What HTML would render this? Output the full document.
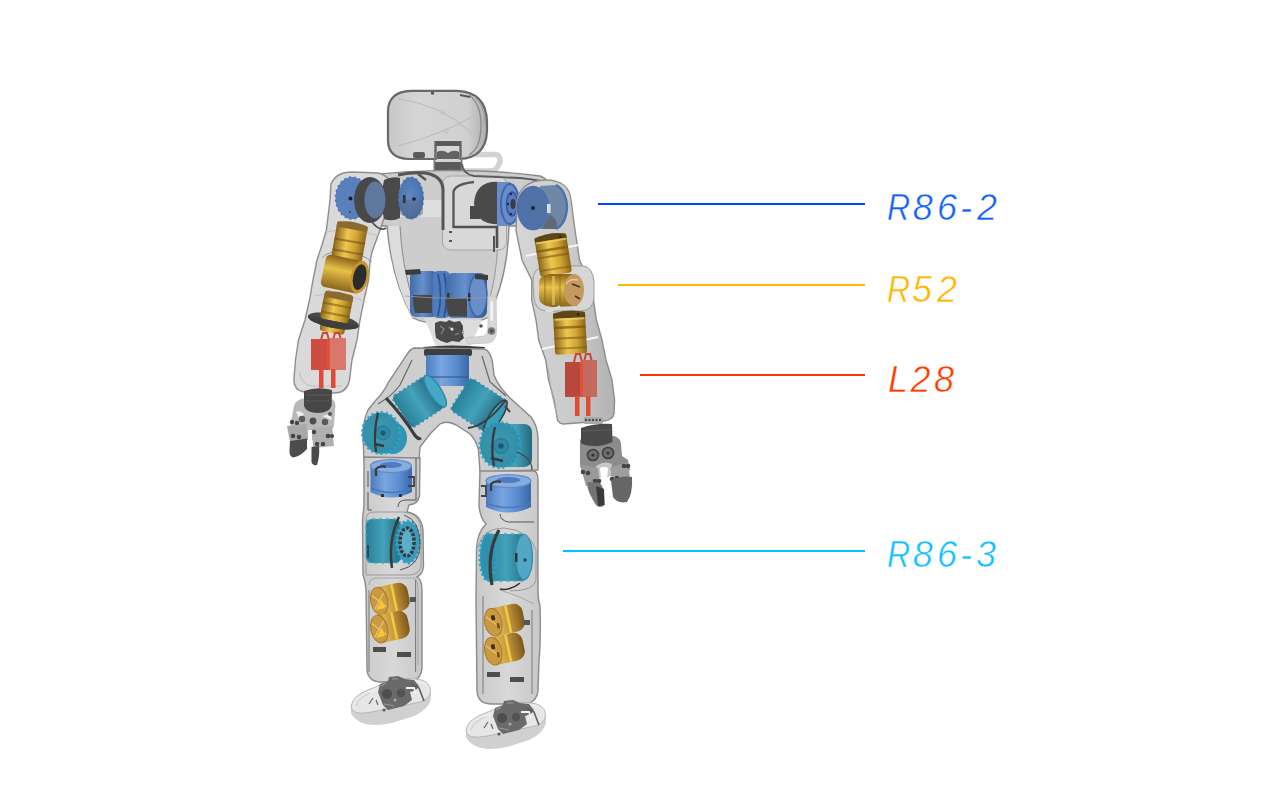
<!DOCTYPE html>
<html><head><meta charset="utf-8">
<style>
html,body{margin:0;padding:0;background:#fff;width:1280px;height:800px;overflow:hidden}
#art{position:absolute;left:0;top:0}
.lb{position:absolute;font-family:"Liberation Sans",sans-serif;font-style:italic;font-size:36px;line-height:36px;white-space:nowrap;-webkit-text-stroke:0.5px #fff;paint-order:normal}
.ln{position:absolute;height:2px}
</style></head><body>
<svg id="art" width="1280" height="800" viewBox="0 0 1280 800">
<defs>
<linearGradient id="gBlue" x1="0" y1="0" x2="1" y2="0"><stop offset="0" stop-color="#416ca8"/><stop offset=".45" stop-color="#6690cc"/><stop offset="1" stop-color="#35598f"/></linearGradient>
<radialGradient id="rBlue" cx=".45" cy=".45" r=".6"><stop offset="0" stop-color="#5f88c2"/><stop offset=".8" stop-color="#4a74b0"/><stop offset="1" stop-color="#335a92"/></radialGradient>
<linearGradient id="gTeal" x1="0" y1="0" x2="1" y2="0"><stop offset="0" stop-color="#2a7f98"/><stop offset=".5" stop-color="#43a2ba"/><stop offset="1" stop-color="#216a80"/></linearGradient>
<radialGradient id="rTeal" cx=".5" cy=".5" r=".6"><stop offset="0" stop-color="#3c9ab0"/><stop offset=".75" stop-color="#3490a8"/><stop offset="1" stop-color="#206a80"/></radialGradient>
<linearGradient id="gGold" x1="0" y1="0" x2="1" y2="0"><stop offset="0" stop-color="#8a6418"/><stop offset=".4" stop-color="#eec850"/><stop offset=".7" stop-color="#cfa432"/><stop offset="1" stop-color="#8a661c"/></linearGradient>
<linearGradient id="gGoldV" x1="0" y1="0" x2="0" y2="1"><stop offset="0" stop-color="#8a6418"/><stop offset=".4" stop-color="#e6c048"/><stop offset="1" stop-color="#8a661c"/></linearGradient>
<linearGradient id="gRed" x1="0" y1="0" x2="1" y2="0"><stop offset="0" stop-color="#c23a2c"/><stop offset=".5" stop-color="#de5a48"/><stop offset="1" stop-color="#b83428"/></linearGradient>
<linearGradient id="gShellR" x1="0" y1="0" x2="1" y2="0"><stop offset="0" stop-color="#d6d6d6"/><stop offset=".55" stop-color="#cbcbcb"/><stop offset="1" stop-color="#b2b2b2"/></linearGradient>
<linearGradient id="gShell" x1="0" y1="0" x2="1" y2="0"><stop offset="0" stop-color="#cacaca"/><stop offset=".5" stop-color="#d8d8d8"/><stop offset="1" stop-color="#c8c8c8"/></linearGradient>
<linearGradient id="gHead" x1="0" y1="0" x2="1" y2="0"><stop offset="0" stop-color="#c8c8c8"/><stop offset=".3" stop-color="#d5d5d5"/><stop offset=".8" stop-color="#d0d0d0"/><stop offset="1" stop-color="#adadad"/></linearGradient>
<linearGradient id="gDark" x1="0" y1="0" x2="1" y2="0"><stop offset="0" stop-color="#3a3a3a"/><stop offset=".5" stop-color="#5a5a5a"/><stop offset="1" stop-color="#333"/></linearGradient>
<linearGradient id="gBlueL" x1="0" y1="0" x2="1" y2="0"><stop offset="0" stop-color="#4a7cc0"/><stop offset=".35" stop-color="#7aa6e0"/><stop offset=".7" stop-color="#5a8cd0"/><stop offset="1" stop-color="#3a68a8"/></linearGradient>
<linearGradient id="gGoldL" x1="0" y1="0" x2="1" y2="0"><stop offset="0" stop-color="#9a7024"/><stop offset=".35" stop-color="#d9ae4e"/><stop offset=".6" stop-color="#c0923a"/><stop offset="1" stop-color="#7a5618"/></linearGradient>
</defs>

<!-- ============ HEAD ============ -->
<g id="head">
  <path d="M462,154.5 L495,154.5 Q501,155 500,162 L498,166 Q496,171 489,171 L462,171" fill="none" stroke="#d2d2d2" stroke-width="5.5"/>
  <rect x="433" y="158" width="30" height="16" fill="#d4d4d4"/>
  <path d="M411,90.8 L457,90.8 Q486.5,92 487,122 L487,131 Q486,158 459,159 L409,159 Q388,158.5 388,140 L388,111 Q388.5,91.5 411,90.8 Z" fill="url(#gHead)" stroke="#686868" stroke-width="2.2"/>
  <path d="M469,95 Q481,104 481,125 Q481,148 469,155" fill="none" stroke="#8a8a8a" stroke-width="1.3"/>
  <path d="M474,96 Q485,106 485,125" fill="none" stroke="#a0a0a0" stroke-width="1"/>
  <path d="M398,99 Q440,104 472,133" fill="none" stroke="#b4b4b4" stroke-width=".8"/>
  <path d="M398,146 Q440,135 474,116" fill="none" stroke="#b4b4b4" stroke-width=".8"/>
  <circle cx="443" cy="112" r="2" fill="none" stroke="#bbb" stroke-width=".8"/>
  <circle cx="446" cy="131" r="2" fill="none" stroke="#bbb" stroke-width=".8"/>
  <rect x="431" y="92" width="3" height="2.5" fill="#555"/>
  <path d="M460,95 L470,97" stroke="#555" stroke-width="2"/>
  <rect x="434" y="140" width="28" height="20" fill="#d6d6d6"/>
  <path d="M435.5,141 L435.5,160 M460.5,141 L460.5,160" stroke="#6a6a6a" stroke-width="2.5"/>
  <rect x="436" y="141" width="24" height="5" fill="#5a5a5a"/>
  <path d="M437,152 Q442,149 448,153 Q454,149 459,152 L459,159 L437,159 Z" fill="#626262"/>
  <rect x="413" y="152" width="12" height="6" rx="2" fill="#5a5a5a"/>
  <rect x="435" y="162" width="27" height="8" fill="#5a5a5a"/>
  <path d="M434.5,160 L434.5,172 M461.5,160 L461.5,172" stroke="#777" stroke-width="1.5"/>
</g>

<!-- ============ TORSO ============ -->
<g id="torso">
  <path d="M352,178 C400,169 480,168 540,176 Q552,180 552,200 L552,224 C535,226 520,226 509,226 C508,262 500,295 487,318 C470,327 430,327 413,318 C400,295 390,262 387,226 C375,226 360,226 352,226 Z" fill="#cdcdcd" stroke="#8a8a8a" stroke-width="1.4"/>
  <path d="M352,200 L446,200 L446,217 L352,217 Z" fill="#dedede"/>
  <path d="M388.5,226 C390,262 400,295 413,318 L418,314 C409,292 402,262 400,226 Z" fill="#dcdcdc"/>
  <path d="M400,226 C402,262 409,292 418,314" fill="none" stroke="#8a8a8a" stroke-width="1"/>
  <path d="M508,226 C507,262 499,295 487,318 L484,313 C494,292 498,262 498,226 Z" fill="#d6d6d6"/>
  <path d="M498,228 C498,262 494,292 484,313" fill="none" stroke="#999" stroke-width="1"/>
  <rect x="442.5" y="176" width="64" height="74" rx="8" fill="#d8d8d8" stroke="#a4a4a4" stroke-width="1"/>
  <path d="M398,175 Q418,171 430,174 Q443,178 443,190 L443,230" fill="none" stroke="#555" stroke-width="3"/>
  <path d="M418,174 L426,180" stroke="#555" stroke-width="2.5"/>
  <path d="M453.5,228 L453.5,192 Q455,184 474,182" fill="none" stroke="#5a5a5a" stroke-width="2.4"/>
  <path d="M453,227 L497,227 L497,248" fill="none" stroke="#505050" stroke-width="2.6"/>
  <path d="M494,236 L494,252" fill="none" stroke="#555" stroke-width="2"/>
  <rect x="449" y="231" width="3" height="2" fill="#555"/><rect x="449" y="240" width="3" height="2" fill="#555"/>
  <path d="M462,164 Q463,174 474,176 L520,178 Q540,180 552,184" fill="none" stroke="#5a5a5a" stroke-width="1.8"/>
    <!-- right shoulder inner -->
  <path d="M500,182 Q476,180 474,203 Q476,226 500,224 Z" fill="#4a4a4a"/>
  <rect x="470" y="206" width="10" height="13" fill="#484848"/>
  <path d="M497,182 L510,182 Q521,190 520.5,204 Q520,220 510,226 L497,226 Z" fill="#6a8cc8"/>
  <ellipse cx="510" cy="204" rx="9" ry="20" fill="none" stroke="#3f68b0" stroke-width="2"/>
  <ellipse cx="512" cy="204" rx="5.5" ry="12" fill="#5a7cb8" stroke="#2f56a0" stroke-width="1.5"/>
  <ellipse cx="513" cy="204" rx="2.5" ry="5" fill="#3a3a4a"/>
  <circle cx="511" cy="194" r="1.3" fill="#1a2a6a"/><circle cx="511" cy="214" r="1.3" fill="#1a2a6a"/><circle cx="508" cy="204" r="1.2" fill="#1a2a6a"/>
  <!-- waist motor -->
  <rect x="410" y="271" width="28" height="46" rx="6" fill="url(#gBlue)"/>
  <rect x="433" y="271" width="17" height="47" rx="5" fill="#4f7cc0"/>
  <path d="M438,274 Q443,295 438,316 M444,273 Q449,295 444,317" fill="none" stroke="#2e4e86" stroke-width="1.6"/>
  <rect x="446" y="273" width="41" height="45" rx="7" fill="url(#gBlue)"/>
  <ellipse cx="478" cy="295.5" rx="9" ry="21" fill="#6a8ec8" stroke="#3a66aa" stroke-width="1.5"/>
  <rect x="447" y="293" width="2.5" height="8" fill="#333"/><rect x="468" y="293" width="2.5" height="8" fill="#333"/>
  <path d="M405,270 L420,269 L421,274 L406,275 Z M475,274 L488,275 L488,280 L475,279 Z" fill="#3c3c3c"/>
  <path d="M413,295 L432,295 L432,313 L415,313 Q413,306 413,300 Z" fill="#474747"/>
  <path d="M446,298 L467,298 L467,317 L449,316 Q446,308 446,302 Z" fill="#474747"/>
  <path d="M405,296 Q450,300 497,297" fill="none" stroke="#9a9a9a" stroke-width=".8"/>
  <!-- waist bracket & mech -->
  <path d="M424,318 Q430,330 434,342 L436,346 L470,346 Q476,334 482,320 Z" fill="#dcdcdc"/>
  <path d="M488,296 L496,296 L496.5,331 Q496,342 488,343 L468,344 L466,338 L484,336 Q488,334 488,326 Z" fill="#d6d6d6" stroke="#c4c4c4" stroke-width=".8"/>
  <rect x="490.5" y="301" width="2.5" height="20" rx="1" fill="#f4f4f4"/>
  <circle cx="491.5" cy="331" r="3.8" fill="#7a7a7a"/><circle cx="491.5" cy="331" r="1.8" fill="#505050"/>
  <circle cx="481" cy="326" r="1.8" fill="#555"/>
  <path d="M435,323 L440,321 L446,322 L449,320 L454,322 L460,321 L463,326 L462,333 L464,338 L459,342 L452,341 L447,343 L441,341 L436,338 L435,331 Z" fill="#4a4a4a"/>
  <path d="M440,326 L444,329 L441,334 M449,327 L453,331 M455,335 L459,333" stroke="#8a8a8a" stroke-width="1.2" fill="none"/>
  <circle cx="452" cy="329" r="1.5" fill="#ddd"/>
  <path d="M461,326 Q465,332 461,340" fill="none" stroke="#222" stroke-width="1" stroke-dasharray="1.5 1"/>
  <path d="M423,347 Q450,344 485,347 L483,351 L424,351 Z" fill="#3c3c3c"/>
</g>

<!-- ============ LEFT ARM ============ -->
<g id="larm">
  <path d="M331,184 Q336,172 352,172 L378,173 Q392,176 393,192 L380,230 L372,252 L370,262 L368.6,280 L364,300 L360,320 L357,340 L352,360 L349.5,380 Q347,393 334,393 L304,392 Q293,390 294,378 L295.5,360 L298.5,340 L305,320 L309.5,300 L313,280 L317,260 L322,245 L326.4,230 L330,200 Z" fill="#dadada" stroke="#8e8e8e" stroke-width="1.4"/>
  <path d="M322,258 Q328,250 346,252 Q364,254 372,262" fill="none" stroke="#9a9a9a" stroke-width="1"/>
  <path d="M326,232 Q350,226 379,236" fill="none" stroke="#c4c4c4" stroke-width="1"/>
  <path d="M314,296 Q340,290 366,302" fill="none" stroke="#c4c4c4" stroke-width="1"/>
  <path d="M300,372 Q300,384 312,386 L342,386" fill="none" stroke="#bdbdbd" stroke-width="1"/>
  <!-- left shoulder inner motor -->
  <path d="M384,180 Q392,176 400,178 L400,218 Q392,222 384,219 Q379,200 384,180 Z" fill="#4a4a4a"/>
  <ellipse cx="411" cy="198" rx="12.5" ry="21" fill="url(#rBlue)" stroke="#4a74b8" stroke-width="1.2" stroke-dasharray="2 3"/>
  <path d="M400,200 L423,200 L423,214 Q412,222 400,214 Z" fill="#5a6a84" opacity=".45"/>
  <circle cx="414" cy="199" r="1.8" fill="#1e1e1e"/>
  <rect x="403" y="195" width="2.5" height="8" fill="#333"/>
  <!-- shoulder motor -->
  <ellipse cx="352" cy="198" rx="16.5" ry="21" fill="#5a80bc" stroke="#4a74b8" stroke-width="1.5" stroke-dasharray="2 3"/>
  <circle cx="350.5" cy="198.5" r="2" fill="#1e1e1e"/>
  <circle cx="350" cy="212" r="1" fill="#333"/>
  <ellipse cx="370" cy="200" rx="16" ry="23" fill="#484848"/>
  <ellipse cx="375" cy="200" rx="10.5" ry="18.5" fill="#60789e"/>
  <path d="M372,222 Q380,232 386,228" fill="none" stroke="#555" stroke-width="1.8"/>
  <!-- gold 1 -->
  <g transform="rotate(10 349 242)">
    <rect x="334" y="223" width="31" height="39" rx="3" fill="url(#gGold)"/>
    <path d="M334,224 Q350,219 365,224 L365,229 L334,229 Z" fill="#8a6a30"/>
    <rect x="334" y="240" width="31" height="2" fill="#6e4a12" opacity=".55"/>
    <rect x="334" y="251" width="31" height="2" fill="#6e4a12" opacity=".55"/>
  </g>
  <!-- gold 2 -->
  <g transform="rotate(12 345 274)">
    <rect x="323" y="258" width="40" height="33" rx="5" fill="url(#gGoldV)"/>
    <ellipse cx="360" cy="274" rx="9" ry="16.5" fill="#c7952e"/>
    <ellipse cx="360" cy="274" rx="6.5" ry="13" fill="#2c2c2c"/>
  </g>
  <!-- gold 3 + disc -->
  <g transform="rotate(11 334 318)">
    <rect x="322" y="322" width="25" height="11" rx="3" fill="url(#gGold)"/>
    <ellipse cx="334" cy="321" rx="26" ry="7" fill="#474747"/>
    <rect x="320" y="292" width="29" height="29" rx="4" fill="url(#gGold)"/>
    <path d="M321,294 Q335,289 349,294 L349,299 L321,299 Z" fill="#8a6a30"/>
    <rect x="320" y="304" width="29" height="2" fill="#7a5614" opacity=".6"/>
    <rect x="320" y="313" width="29" height="2" fill="#7a5614" opacity=".6"/>
    <path d="M308,321 A26,7 0 0,0 360,321 Z" fill="#3e3e3e"/>
  </g>
  <!-- red -->
  <path d="M321,340 L323,333 L327,333 L329,340 M333,340 L335,333 L339,333 L341,340" fill="none" stroke="#cf4434" stroke-width="2"/>
  <rect x="311" y="339" width="18" height="31" fill="#cf4c40"/>
  <rect x="329" y="338" width="17" height="32" fill="#d8786a"/>
  <rect x="327" y="339" width="3" height="31" fill="#e0503c"/>
  <rect x="319" y="369" width="4.5" height="19" fill="#e24a34"/>
  <rect x="331" y="369" width="4.5" height="19" fill="#e24a34"/>
  <!-- gripper -->
  <path d="M294,406 Q296,399 306,398 L330,398 Q337,400 335,410 L334,426 L328,436 L314,440 L298,440 L290,428 Z" fill="#b9b9b9"/>
  <path d="M304,391 Q318,386 332,390 L331.5,406 Q329,413 318,413 Q306,413 304,406 Z" fill="#474747"/>
  <path d="M306,395 L330,395 M306,401 L330,401" stroke="#5a5a5a" stroke-width="1"/>
  <path d="M296,412 Q300,410 304,414 L300,420 Z M322,416 L330,414 L332,420 Z" fill="#eee"/>
  <circle cx="302" cy="419" r="3.2" fill="#5a5a5a"/><circle cx="313" cy="421" r="3.4" fill="#4e4e4e"/><circle cx="325" cy="422" r="3.2" fill="#5a5a5a"/>
  <circle cx="292" cy="422" r="2.2" fill="#444"/><circle cx="297" cy="423" r="2.2" fill="#444"/><circle cx="330" cy="414" r="2" fill="#555"/>
  <path d="M287,426 L306,424 L308,440 L290,442 Z" fill="#a8a8a8"/>
  <path d="M312,428 L332,426 L334,446 L313,448 Z" fill="#b0b0b0"/>
  <path d="M308,430 L312,430 L312,446 L308,446 Z" fill="#fff"/>
  <circle cx="293" cy="436" r="2.3" fill="#454545"/><circle cx="299" cy="437" r="2.3" fill="#454545"/>
  <circle cx="314" cy="432" r="2.2" fill="#454545"/><circle cx="328" cy="436" r="2.3" fill="#454545"/><circle cx="332" cy="436" r="2" fill="#454545"/>
  <circle cx="317" cy="444" r="2.2" fill="#454545"/><circle cx="323" cy="444" r="2.2" fill="#454545"/>
  <path d="M290,441 L307,438.5 L307,449 Q301,456 293,457.6 Q289,456 289.5,450 Z" fill="#4c4c4c"/>
  <path d="M311.5,447 L319,446 Q320,456 317,465 Q313,466 311.5,462 Z" fill="#4a4a4a"/>
</g>

<!-- ============ RIGHT ARM ============ -->
<g id="rarm">
  <path d="M517,206 C516,188 530,180 546,180 C562,180 570,188 571,200 L575,230 L579.5,260 L584,270 L592,280 L593.5,300 L596.4,320 L602,340 L606,360 L612,380 L614.6,400 L614,414 Q613,420 604,421 L563,424 Q557,423 557,417 L554,400 L548.6,380 L545.7,360 L538.7,340 L536,320 L531.7,300 L531.7,280 L522,260 L516,230 Z" fill="url(#gShellR)" stroke="#8e8e8e" stroke-width="1.4"/>
  <path d="M533,282 Q532,268 546,266 L584,266 Q593,268 594,282 L594,298 Q593,310 582,311 L546,311 Q535,310 534,298 Z" fill="#d6d6d6" stroke="#9a9a9a" stroke-width="1"/>
  <path d="M526,256 L578,245" stroke="#f6f6f6" stroke-width="1.8"/>
  <path d="M542,349 L598,337" stroke="#f6f6f6" stroke-width="1.8"/>
  <path d="M548,368 Q552,400 558,418" fill="none" stroke="#aaa" stroke-width="1"/>
  <!-- shoulder motor -->
  <path d="M540,186 L556,185 Q566,190 567,207 Q566,224 556,229 L540,229 Z" fill="#7088a6"/>
  <path d="M556,185 Q566,190 567,207 Q566,224 556,229" fill="none" stroke="#4a72b0" stroke-width="2.5"/>
  <path d="M550,214 Q560,222 556,229 L542,229 Z" fill="#555" opacity=".6"/>
  <ellipse cx="533" cy="208" rx="15.5" ry="21.5" fill="#4f72a8" stroke="#4a6fae" stroke-width="1.5"/>
  <circle cx="533" cy="208" r="2" fill="#222"/>
  <rect x="547" y="204" width="3.5" height="9" fill="#dde"/>
  <!-- gold 1 -->
  <g transform="rotate(-9 553 254)">
    <rect x="537" y="235" width="32" height="40" rx="3" fill="url(#gGold)"/>
    <path d="M537,236 Q553,231 569,236 L569,240 L537,240 Z" fill="#5e4618"/>
    <rect x="538" y="240" width="30" height="2" fill="#f4d46a" opacity=".7"/>
    <rect x="537" y="248" width="32" height="2.5" fill="#7a5614" opacity=".7"/>
    <rect x="537" y="255" width="32" height="2" fill="#7a5614" opacity=".6"/>
    <rect x="537" y="268" width="32" height="2" fill="#7a5614" opacity=".5"/>
    <circle cx="563" cy="238" r="1.3" fill="#222"/>
  </g>
  <!-- gold 2 -->
  <path d="M539,282 Q540,275 550,274 L572,274 L577,306 L552,307 Q540,306 539,298 Z" fill="url(#gGoldV)"/>
  <path d="M545,276 L545,305 M560,275 L560,306" stroke="#8a6418" stroke-width="1.2" opacity=".6"/>
  <rect x="552" y="276" width="3" height="29" fill="#f0cc5a" opacity=".6"/>
  <ellipse cx="574" cy="290" rx="10" ry="16" fill="#c49a5e"/>
  <path d="M566,284 Q570,278 578,280" fill="none" stroke="#e8c88a" stroke-width="1.5"/>
  <path d="M572,284 L580,287 M575,296 L580,299" stroke="#4a3418" stroke-width="1.6"/>
  <path d="M560,306 Q548,314 546,310" fill="none" stroke="#e2e2e2" stroke-width="2"/>
  <!-- gold 3 -->
  <g transform="rotate(-3 570 332)">
    <rect x="554" y="312" width="32" height="42" rx="3" fill="url(#gGold)"/>
    <path d="M554,313 Q570,308 586,313 L586,318 L554,318 Z" fill="#5e4618"/>
    <rect x="555" y="318" width="30" height="2" fill="#f4d46a" opacity=".7"/>
    <rect x="554" y="326" width="32" height="2.5" fill="#7a5614" opacity=".7"/>
    <rect x="554" y="337" width="32" height="2" fill="#7a5614" opacity=".6"/>
    <rect x="554" y="347" width="32" height="2" fill="#7a5614" opacity=".5"/>
    <circle cx="579" cy="315" r="1.3" fill="#222"/>
  </g>
  <!-- red -->
  <path d="M574,362 L576,354 L580,354 L582,362 M584,362 L586,354 L590,354 L592,362" fill="none" stroke="#cf4434" stroke-width="2"/>
  <rect x="565" y="362" width="17" height="35" fill="#b8483c"/>
  <rect x="582" y="360" width="15" height="37" fill="#c46a5e"/>
  <rect x="580" y="362" width="3" height="35" fill="#e0503c"/>
  <rect x="575" y="396" width="4.5" height="20" fill="#e24a34"/>
  <rect x="586" y="396" width="4.5" height="20" fill="#e24a34"/>
  <!-- gripper -->
  <rect x="584" y="417" width="19" height="7" rx="1" fill="#a8a8a8"/>
  <path d="M585,420 L602,420" stroke="#444" stroke-width="2" stroke-dasharray="2 1.5"/>
  <path d="M580,440 Q582,436 590,436 L614,436 Q621,438 621,444 L622,456 L628,460 L630,470 L624,474 L612,476 L596,478 L584,476 L580,466 Z" fill="#8c8c8c"/>
  <path d="M581,428 Q596,423 612,424 L612.5,442 Q604,446 596,446 Q584,446 581,443 Z" fill="#4a4a4a"/>
  <path d="M583,431 L611,430" stroke="#5e5e5e" stroke-width="1"/>
  <circle cx="593" cy="455" r="5.5" fill="#6e6e6e" stroke="#3e3e3e" stroke-width="1.6"/>
  <circle cx="608" cy="453" r="5.5" fill="#6e6e6e" stroke="#3e3e3e" stroke-width="1.6"/>
  <circle cx="593" cy="455" r="1.6" fill="#333"/><circle cx="608" cy="453" r="1.6" fill="#333"/>
  <path d="M596,466 Q604,460 612,464 L611,476 L597,477 Z" fill="#c8c8c8"/>
  <path d="M600,468 Q604,466 608,468 L607,480 L601,480 Z" fill="#fff"/>
  <path d="M580,464 L598,468 L600,484 L586,486 Z" fill="#9a9a9a"/>
  <path d="M610,468 L628,462 L630,478 L614,482 Z" fill="#9e9e9e"/>
  <circle cx="583" cy="472" r="2.3" fill="#444"/><circle cx="588" cy="473" r="2.3" fill="#444"/>
  <circle cx="624" cy="466" r="2.3" fill="#444"/><circle cx="628" cy="466" r="2.3" fill="#444"/>
  <circle cx="595" cy="481" r="2.3" fill="#444"/><circle cx="599" cy="481" r="2.3" fill="#444"/>
  <circle cx="612" cy="479" r="2.3" fill="#444"/><circle cx="617" cy="478" r="2.3" fill="#444"/>
  <path d="M587.5,482 L600,483 Q604,488 604,494 L604.5,505 Q600,509 596,505 Q589,494 587.5,487 Z" fill="#747474"/>
  <path d="M596,486 L604,489 L604.5,505 L598,506 Z" fill="#3a3a3a"/>
  <path d="M611,480 Q622,475 632,477 Q633,494 627,502 Q617,504 613,497 Z" fill="#666"/>
</g>

<!-- ============ PELVIS ============ -->
<g id="pelvis">
  <path d="M414,348 L484,349 Q490,350 492.5,362 L494,375 Q498,386 510,398 L531,417 Q538,426 538,440 L538,470 L480,472 L478.5,450 Q476,440 470,434 L457,425.5 Q447,420 440,424 L430,434 L420,447 L419,460 L364,460 L363,437 Q363,420 368,410 L376,400 Q384,392 388,383 L406,356 Q410,349 414,348 Z" fill="#cecece" stroke="#8a8a8a" stroke-width="1.4"/>
  <path d="M412,360 L400,385 Q392,396 378,404" fill="none" stroke="#666" stroke-width="1.2"/>
  <path d="M482,356 L490,382 L506,396" fill="none" stroke="#666" stroke-width="1.2"/>
  <!-- top blue -->
  <rect x="424" y="349" width="48" height="7" rx="2" fill="#3e3e3e"/>
  <rect x="426" y="355" width="43" height="31" rx="2" fill="url(#gBlueL)"/>
  <rect x="426" y="376" width="43" height="2" fill="#3a5a90" opacity=".6"/>
  <!-- teal 1 -->
  <g transform="rotate(-33 419 401)">
    <rect x="398" y="383" width="40" height="37" rx="4" fill="url(#gTeal)"/>
    <rect x="398" y="383" width="40" height="37" rx="4" fill="none" stroke="#2a92b2" stroke-width="2" stroke-dasharray="2 3"/>
    <ellipse cx="438" cy="401.5" rx="6" ry="18.5" fill="#46a8c6" stroke="#2d8aa8" stroke-width="1.5"/>
  </g>
  <path d="M386,398 Q402,415 414,434 Q418,440 421,438" fill="none" stroke="#3c3c3c" stroke-width="3.2"/>
  <!-- teal 3 -->
  <g transform="rotate(33 478 405)">
    <rect x="457" y="386" width="43" height="38" rx="4" fill="url(#gTeal)"/>
    <rect x="457" y="386" width="43" height="38" rx="4" fill="none" stroke="#2a92b2" stroke-width="2" stroke-dasharray="2 3"/>
    <ellipse cx="499" cy="405" rx="6" ry="19" fill="#3c9cb4" stroke="#3a3a3a" stroke-width="1.5"/><ellipse cx="499" cy="405" rx="3.5" ry="14" fill="none" stroke="#2aa2c8" stroke-width="1.2"/>
  </g>
  <path d="M468,428 Q486,426 506,400" fill="none" stroke="#3c3c3c" stroke-width="2"/>
  <path d="M505,406 L510,412" stroke="#444" stroke-width="2"/>
  <!-- teal 2 face -->
  <ellipse cx="393" cy="438" rx="14" ry="16" fill="#3295b3"/>
  <ellipse cx="381" cy="433" rx="18.5" ry="20.5" fill="url(#rTeal)" stroke="#2aa2c8" stroke-width="3" stroke-dasharray="2.2 2.6"/>
  <circle cx="383" cy="433" r="7" fill="#2f88a6" stroke="#237590" stroke-width="1"/>
  <circle cx="383" cy="433" r="2.5" fill="#1e5a6e"/>
  <path d="M378,413 Q373,433 376,452" fill="none" stroke="#383838" stroke-width="2.2"/>
  <path d="M374,444 L384,446" stroke="#383838" stroke-width="2.5"/>
  <!-- teal 4 face -->
  <rect x="498" y="424" width="34" height="43" rx="8" fill="url(#gTeal)"/>
  <ellipse cx="500" cy="445" rx="20" ry="22.5" fill="url(#rTeal)" stroke="#2aa2c8" stroke-width="3" stroke-dasharray="2.2 2.6"/>
  <circle cx="501" cy="446" r="7.5" fill="#2f88a6" stroke="#237590" stroke-width="1"/>
  <circle cx="501" cy="446" r="2.8" fill="#1e5a6e"/>
  <path d="M495,427 Q490,446 494,466" fill="none" stroke="#383838" stroke-width="2.2"/>
  <path d="M491,458 L503,461" stroke="#383838" stroke-width="2.5"/>
  <path d="M517,452 Q532,458 532,470" fill="none" stroke="#444" stroke-width="1.2"/>
</g>

<!-- ============ LEFT LEG ============ -->
<g id="lleg">
  <path d="M364,457 L420,458 L419.5,496 Q418,504 409,505 L407,512 Q421,514 423,530 L423.5,566 Q423,574 417,577 Q422,580 422,590 L422,668 Q421,682 406,682 L380,682 Q367,681 367,668 L366,590 Q365,580 363,575 L362.5,520 L364,505 Z" fill="url(#gShell)" stroke="#8a8a8a" stroke-width="1.4"/>
  <path d="M366,575 L366,520 Q366,512 374,512 L404,512 Q421,514 421,530 L421,566 Q420,574 410,575 Z" fill="none" stroke="#9a9a9a" stroke-width="1"/>
  <path d="M369,585 Q369,578 378,578 L414,578 Q418,580 418,590 L418,666" fill="none" stroke="#a4a4a4" stroke-width="1"/>
  <path d="M369,590 L369,672 M415.6,580 L415.6,672" fill="none" stroke="#777" stroke-width="1"/>
  <!-- blue thigh -->
  <path d="M370.5,466 L370.5,492 Q391,503 412,492 L412,466 Z" fill="url(#gBlueL)"/>
  <path d="M371,488 Q391,497 412,488" fill="none" stroke="#4a78b8" stroke-width="1.5"/>
  <ellipse cx="391" cy="466" rx="20.5" ry="6.5" fill="#88ace0" stroke="#5f8cc8" stroke-width="1.2"/>
  <ellipse cx="391" cy="465" rx="11" ry="3" fill="#4f7cc0"/>
  <path d="M376,476 L376,469 Q380,465 386,467" fill="none" stroke="#3a3a3a" stroke-width="2.2"/>
  <path d="M408,477 L414,477 L414,486 L408,486" fill="none" stroke="#444" stroke-width="1.8"/>
  <path d="M368,471 L368,487 M368,492 L368,510 L372,510" fill="none" stroke="#555" stroke-width="1"/>
  <path d="M398,507 Q398,500 406,500 L416,500 L416,458" fill="none" stroke="#555" stroke-width="1"/>
  <rect x="381" y="494" width="3" height="3" fill="#333"/><rect x="399" y="494" width="3" height="3" fill="#333"/>
  <!-- teal knee -->
  <rect x="366" y="519" width="35" height="44" rx="6" fill="url(#gTeal)"/>
  <rect x="366" y="519" width="35" height="44" rx="6" fill="none" stroke="#3ab0d0" stroke-width="1.5" stroke-dasharray="3 4"/>
  <ellipse cx="408" cy="542" rx="11.5" ry="21" fill="#3a9cbc" stroke="#2aa2c8" stroke-width="3" stroke-dasharray="2.2 2.6"/>
  <ellipse cx="407" cy="542" rx="7" ry="14" fill="#58b0c8" stroke="#3a3a3a" stroke-width="3.5" stroke-dasharray="3 1.5"/>
  <path d="M399,517 Q388,540 392,568" fill="none" stroke="#383838" stroke-width="2.5"/>
  <path d="M404,515 Q420,520 420,545 Q420,566 400,570" fill="none" stroke="#555" stroke-width="1"/>
  <path d="M368,545 L368,558" stroke="#2a4a5a" stroke-width="2"/>
  <!-- gold -->
  <g transform="rotate(-12 389 599)">
    <rect x="374" y="585" width="35" height="28" rx="9" fill="url(#gGoldL)"/>
    <rect x="393" y="585" width="2.5" height="28" fill="#f2cc40"/>
    <ellipse cx="379" cy="599" rx="8.5" ry="14" fill="#c99a40" stroke="#a87a28" stroke-width="1"/>
    <path d="M373,592 L385,606 M385,592 L373,606" stroke="#e8c870" stroke-width="1.2"/>
    <path d="M374,607 L382,598 L383,607 Z" fill="#f5c838"/>
  </g>
  <g transform="rotate(-12 389 627)">
    <rect x="374" y="613" width="35" height="28" rx="9" fill="url(#gGoldL)"/>
    <rect x="393" y="613" width="2.5" height="28" fill="#f2cc40"/>
    <ellipse cx="379" cy="627" rx="8.5" ry="14" fill="#c99a40" stroke="#a87a28" stroke-width="1"/>
    <path d="M373,620 L385,634 M385,620 L373,634" stroke="#e8c870" stroke-width="1.2"/>
    <path d="M374,635 L382,626 L383,635 Z" fill="#f5c838"/>
  </g>
  <rect x="410" y="597" width="6" height="5" fill="#555"/>
  <path d="M373,647 L386,647 L386,652 L373,652 Z" fill="#4e4e4e"/>
  <path d="M397,652 L411,652 L411,657 L397,657 Z" fill="#4e4e4e"/>
</g>

<!-- ============ RIGHT LEG ============ -->
<g id="rleg">
  <path d="M480,471 L534,471 Q538,472 538,480 L538,530 L538,592 Q538,600 540,606 Q541,640 539,660 L538,690 Q537,704 522,704 L492,704 Q477,704 477,690 L476,600 L476.5,550 Q477,532 486,524 Q480,518 479,505 Z" fill="url(#gShell)" stroke="#8a8a8a" stroke-width="1.4"/>
  <path d="M483,596 L483,694 M532,610 L532,694" fill="none" stroke="#7a7a7a" stroke-width="1"/>
  <path d="M500,590 Q520,596 534,604" fill="none" stroke="#a8a8a8" stroke-width="1"/>
  <!-- blue thigh -->
  <path d="M486,481 L486,507 Q508.5,518 531,507 L531,481 Z" fill="url(#gBlueL)"/>
  <path d="M486,503 Q508.5,512 531,503" fill="none" stroke="#4a78b8" stroke-width="1.5"/>
  <ellipse cx="508.5" cy="481" rx="22.5" ry="6.5" fill="#88ace0" stroke="#5f8cc8" stroke-width="1.2"/>
  <ellipse cx="508.5" cy="480" rx="12" ry="3" fill="#4f7cc0"/>
  <path d="M491,491 L491,484 Q495,480 501,482" fill="none" stroke="#3a3a3a" stroke-width="2.2"/>
  <path d="M481,486 L486,486 L486,496 L481,496" fill="none" stroke="#444" stroke-width="1.8"/>
  <path d="M500,514 Q500,520 508,522 L534,522" fill="none" stroke="#555" stroke-width="1"/>
  <!-- teal knee -->
  <rect x="484" y="534" width="44" height="47" rx="6" fill="url(#gTeal)"/>
  <rect x="484" y="534" width="44" height="47" rx="6" fill="none" stroke="#3ab0d0" stroke-width="1.5" stroke-dasharray="3 4"/>
  <ellipse cx="524" cy="557" rx="8.5" ry="22.5" fill="#52a8c4" stroke="#2f8aa8" stroke-width="1.2"/>
  <circle cx="525" cy="560" r="1.8" fill="#1e4a5e"/>
  <rect x="515" y="553" width="2.5" height="9" fill="#333"/>
  <ellipse cx="488" cy="557" rx="8" ry="23.5" fill="#2f8fae" stroke="#2aa2c8" stroke-width="3" stroke-dasharray="2.2 2.6"/>
  <path d="M499,530 Q486,553 492,585" fill="none" stroke="#3a3a3a" stroke-width="3.2"/>
  <path d="M520,583 Q510,591 500,589" fill="none" stroke="#333" stroke-width="1.5"/>
  <path d="M478,548 Q482,528 504,528 Q530,530 536,550 L536,580 Q534,591 510,591" fill="none" stroke="#999" stroke-width="1"/>
  <!-- gold -->
  <g transform="rotate(-12 504 620)">
    <rect x="488" y="606" width="36" height="28" rx="9" fill="url(#gGoldL)"/>
    <rect x="507" y="606" width="2.5" height="28" fill="#f2cc40"/>
    <ellipse cx="493" cy="620" rx="8.5" ry="14" fill="#c99a40" stroke="#a87a28" stroke-width="1"/>
    <path d="M487,613 L499,627" stroke="#e8c870" stroke-width="1.2"/>
    <rect x="492" y="613" width="3.5" height="5" fill="#3a2a10"/>
    <rect x="496" y="622" width="2.5" height="5" fill="#6a4a18"/>
  </g>
  <g transform="rotate(-12 504 649)">
    <rect x="488" y="635" width="36" height="28" rx="9" fill="url(#gGoldL)"/>
    <rect x="507" y="635" width="2.5" height="28" fill="#f2cc40"/>
    <ellipse cx="493" cy="649" rx="8.5" ry="14" fill="#c99a40" stroke="#a87a28" stroke-width="1"/>
    <path d="M487,642 L499,656" stroke="#e8c870" stroke-width="1.2"/>
    <rect x="492" y="642" width="3.5" height="5" fill="#3a2a10"/>
    <rect x="496" y="651" width="2.5" height="5" fill="#6a4a18"/>
  </g>
  <rect x="524" y="620" width="6" height="5" fill="#555"/>
  <path d="M487,672 L500,672 L500,677 L487,677 Z" fill="#4e4e4e"/>
  <path d="M510,677 L524,677 L524,682 L510,682 Z" fill="#4e4e4e"/>
</g>

<!-- ============ FEET ============ -->
<g id="lfoot">
  <path d="M351,713 Q350,700 366,694 L408,684 Q430,680 431,696 Q431,708 414,716 L392,723 Q360,730 351,713 Z" fill="#d0d0d0"/>
  <path d="M351,707 Q352,696 368,690 L390,681 Q405,677 416,679 Q429,680 430.5,690 Q431,699 420,702 L372,712 Q352,716 351,707 Z" fill="#e8e8e8" fill-opacity=".88" stroke="#b6b6b6" stroke-width="1"/>
  <path d="M356,706 Q358,698 370,693" fill="none" stroke="#c8c8c8" stroke-width="1"/>
  <path d="M378,692 L380,684 L388,681 L389,677 L398,676 L405,679 L414,680 L419,686 L416,690 L410,692 L412,700 L404,706 L396,708 L388,710 L383,705 Z" fill="#6a6a6a"/>
  <circle cx="387" cy="694" r="5" fill="#4e4e4e"/><circle cx="401" cy="693" r="4.2" fill="#525252"/>
  <path d="M411,684 L419,688 L424,701" fill="none" stroke="#5e5e5e" stroke-width="1.6"/>
  <path d="M406,688 L414,688 L416,694" fill="none" stroke="#f2f2f2" stroke-width="1.8"/>
  <path d="M381,686 L386,683 M392,679 L398,679 M384,704 L394,706" stroke="#9a9a9a" stroke-width="1.2"/>
  <circle cx="395" cy="700" r="1.5" fill="#aaa"/>
  <path d="M373,698 L369,704 M376,700 L378,705" fill="none" stroke="#666" stroke-width="1.2"/>
  <circle cx="384" cy="710" r="1.5" fill="#555"/>
</g>
<g transform="translate(115,24)">
  <path d="M351,713 Q350,700 366,694 L408,684 Q430,680 431,696 Q431,708 414,716 L392,723 Q360,730 351,713 Z" fill="#d0d0d0"/>
  <path d="M351,707 Q352,696 368,690 L390,681 Q405,677 416,679 Q429,680 430.5,690 Q431,699 420,702 L372,712 Q352,716 351,707 Z" fill="#e8e8e8" fill-opacity=".88" stroke="#b6b6b6" stroke-width="1"/>
  <path d="M356,706 Q358,698 370,693" fill="none" stroke="#c8c8c8" stroke-width="1"/>
  <path d="M378,692 L380,684 L388,681 L389,677 L398,676 L405,679 L414,680 L419,686 L416,690 L410,692 L412,700 L404,706 L396,708 L388,710 L383,705 Z" fill="#6a6a6a"/>
  <circle cx="387" cy="694" r="5" fill="#4e4e4e"/><circle cx="401" cy="693" r="4.2" fill="#525252"/>
  <path d="M411,684 L419,688 L424,701" fill="none" stroke="#5e5e5e" stroke-width="1.6"/>
  <path d="M406,688 L414,688 L416,694" fill="none" stroke="#f2f2f2" stroke-width="1.8"/>
  <path d="M381,686 L386,683 M392,679 L398,679 M384,704 L394,706" stroke="#9a9a9a" stroke-width="1.2"/>
  <circle cx="395" cy="700" r="1.5" fill="#aaa"/>
  <path d="M373,698 L369,704 M376,700 L378,705" fill="none" stroke="#666" stroke-width="1.2"/>
  <circle cx="384" cy="710" r="1.5" fill="#555"/>
</g>
</svg>

<div class="ln" style="left:598px;top:202.5px;width:267px;background:#0048ff"></div>
<div class="lb" style="left:887px;top:190px;color:#1060ff;transform:scaleX(0.89);transform-origin:0 0">R</div>
<div class="lb" style="left:912.75px;top:190px;color:#1060ff">8</div>
<div class="lb" style="left:937px;top:190px;color:#1060ff">6</div>
<div class="lb" style="left:960px;top:190px;color:#1060ff">-</div>
<div class="lb" style="left:977px;top:190px;color:#1060ff">2</div>
<div class="ln" style="left:618px;top:284px;width:247px;background:#ffb800"></div>
<div class="lb" style="left:887px;top:272.3px;color:#ffb600;transform:scaleX(0.89);transform-origin:0 0">R</div>
<div class="lb" style="left:911.9px;top:272.3px;color:#ffb600">5</div>
<div class="lb" style="left:937.1px;top:272.3px;color:#ffb600">2</div>
<div class="ln" style="left:640px;top:374px;width:225px;background:#ff3300"></div>
<div class="lb" style="left:888px;top:362px;color:#ff3a00">L</div>
<div class="lb" style="left:910.5px;top:362px;color:#ff3a00">2</div>
<div class="lb" style="left:934.1px;top:362px;color:#ff3a00">8</div>
<div class="ln" style="left:563px;top:550px;width:302px;background:#00c4ff"></div>
<div class="lb" style="left:887px;top:537px;color:#10c0ff;transform:scaleX(0.89);transform-origin:0 0">R</div>
<div class="lb" style="left:912.75px;top:537px;color:#10c0ff">8</div>
<div class="lb" style="left:937px;top:537px;color:#10c0ff">6</div>
<div class="lb" style="left:960px;top:537px;color:#10c0ff">-</div>
<div class="lb" style="left:976px;top:537px;color:#10c0ff">3</div>
</body></html>
